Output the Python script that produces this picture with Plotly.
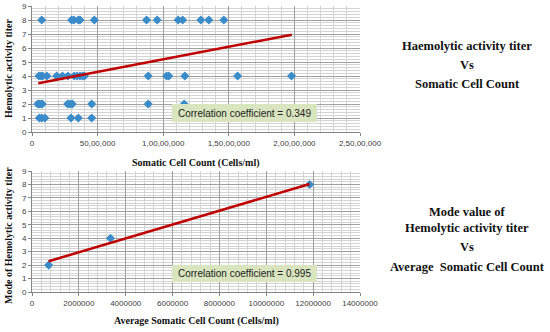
import plotly.graph_objects as go

# ---- Top chart data: Haemolytic activity titer vs Somatic Cell Count ----
scc_titer8 = [740000, 3020000, 3200000, 3530000, 3660000, 4750000, 8730000, 9540000,
              11140000, 11480000, 12870000, 13480000, 14620000]
scc_titer4 = [530000, 690000, 810000, 1140000, 1880000, 2320000, 2740000, 3210000,
              3430000, 3660000, 3850000, 4000000, 8860000, 10260000, 10430000,
              11650000, 15670000, 19780000]
scc_titer2 = [440000, 560000, 690000, 780000, 2720000, 2890000, 3070000, 4550000,
              8860000, 11600000]
scc_titer1 = [560000, 740000, 980000, 2970000, 3530000, 4550000]

top_x = scc_titer8 + scc_titer4 + scc_titer2 + scc_titer1
top_y = ([8] * len(scc_titer8) + [4] * len(scc_titer4) +
         [2] * len(scc_titer2) + [1] * len(scc_titer1))

top_trend_x = [480000, 19800000]
top_trend_y = [3.48, 6.95]

top_xtick_vals = [0, 5000000, 10000000, 15000000, 20000000, 25000000]
top_xtick_text = ["0", "50,00,000", "1,00,00,000", "1,50,00,000", "2,00,00,000", "2,50,00,000"]

# ---- Bottom chart data: Mode titer vs Average SCC ----
avg_scc = [710000, 3350000, 11850000]
mode_titer = [2, 4, 8]
bot_trend_x = [710000, 11850000]
bot_trend_y = [2.29, 8.03]
bot_xtick_vals = [0, 2000000, 4000000, 6000000, 8000000, 10000000, 12000000, 14000000]
bot_xtick_text = ["0", "2000000", "4000000", "6000000", "8000000", "10000000", "12000000", "14000000"]

y_ticks = list(range(0, 10))

W, H = 550, 332
def px(x):
    return x / W
def py(y):
    return 1 - y / H

BLUE = "#3a8bc9"
RED = "#c00000"
SERIF = "Liberation Serif"
SANS = "Liberation Sans"

fig = go.Figure()

fig.add_trace(go.Scatter(x=top_x, y=top_y, mode="markers",
                         marker=dict(symbol="diamond", size=7, color=BLUE),
                         xaxis="x", yaxis="y", showlegend=False))
fig.add_trace(go.Scatter(x=top_trend_x, y=top_trend_y, mode="lines",
                         line=dict(color=RED, width=2.5),
                         xaxis="x", yaxis="y", showlegend=False))
fig.add_trace(go.Scatter(x=avg_scc, y=mode_titer, mode="markers",
                         marker=dict(symbol="diamond", size=7, color=BLUE),
                         xaxis="x2", yaxis="y2", showlegend=False))
fig.add_trace(go.Scatter(x=bot_trend_x, y=bot_trend_y, mode="lines",
                         line=dict(color=RED, width=2.5),
                         xaxis="x2", yaxis="y2", showlegend=False))

tickfont = dict(family=SANS, size=8, color="#404040")
MAJ = "#a0a0a0"
MIN = "#d4d4d4"

def xax(domain, anchor, rng, vals, text, minor_dt):
    return dict(domain=domain, anchor=anchor, range=rng, tickvals=vals, ticktext=text,
                showgrid=True, gridcolor=MAJ, gridwidth=1, zeroline=False,
                showline=True, linecolor="#868686", linewidth=1,
                ticks="outside", ticklen=3, tickcolor="#868686",
                tickfont=tickfont, fixedrange=True, automargin=False,
                minor=dict(dtick=minor_dt, showgrid=True, gridcolor=MIN, gridwidth=1))

def yax(domain, anchor):
    return dict(domain=domain, anchor=anchor, range=[0, 9], tickvals=y_ticks,
                showgrid=True, gridcolor=MAJ, gridwidth=1, zeroline=False,
                showline=True, linecolor="#868686", linewidth=1,
                ticks="outside", ticklen=3, tickcolor="#868686",
                tickfont=tickfont, fixedrange=True, automargin=False,
                minor=dict(dtick=0.2, showgrid=True, gridcolor=MIN, gridwidth=1))

fig.update_layout(
    width=W, height=H,
    margin=dict(l=0, r=0, t=0, b=0),
    paper_bgcolor="white", plot_bgcolor="white",
    xaxis=xax([px(32), px(360)], "y", [0, 25000000], top_xtick_vals, top_xtick_text, 1000000),
    yaxis=yax([py(132), py(6)], "x"),
    xaxis2=xax([px(32), px(360)], "y2", [0, 14000000], bot_xtick_vals, bot_xtick_text, 400000),
    yaxis2=yax([py(292), py(171)], "x2"),
)

# correlation boxes
for (x0, x1, y0, y1, txt) in [(172, 317, 104, 122, "Correlation coefficient = 0.349"),
                              (172, 317, 265, 282, "Correlation coefficient = 0.995")]:
    fig.add_shape(type="rect", xref="paper", yref="paper",
                  x0=px(x0), x1=px(x1), y0=py(y1), y1=py(y0),
                  fillcolor="#d8e5be", line=dict(width=0), layer="above")
    fig.add_annotation(xref="paper", yref="paper", x=px((x0 + x1) / 2), y=py((y0 + y1) / 2),
                       text=txt, showarrow=False, xanchor="center", yanchor="middle",
                       font=dict(family=SANS, size=10, color="#222222"))

ann = [
    # axis titles
    ("Somatic Cell Count (Cells/ml)", 196, 163, 0, 10),
    ("Average Somatic Cell Count (Cells/ml)", 196, 321, 0, 10),
    ("Hemolytic activity titer", 8, 69, -90, 10),
    ("Mode of Hemolytic activity titer", 8, 236, -90, 10),
    # right side titles
    ("Haemolytic activity titer", 467, 46, 0, 12.5),
    ("Vs", 467, 65, 0, 12.5),
    ("Somatic Cell Count", 467, 83.5, 0, 12.5),
    ("Mode value of", 467, 212, 0, 12.5),
    ("Hemolytic activity titer", 467, 228, 0, 12.5),
    ("Vs", 467, 247, 0, 12.5),
    ("Average  Somatic Cell Count", 467, 267, 0, 12.5),
]
for txt, x, y, ang, sz in ann:
    fig.add_annotation(xref="paper", yref="paper", x=px(x), y=py(y), text="<b>" + txt.replace("  ", "&nbsp; ") + "</b>",
                       showarrow=False, xanchor="center", yanchor="middle", textangle=ang,
                       font=dict(family=SERIF, size=sz, color="#111111"))

fig.write_html("out.html", config={"displayModeBar": False},
               post_script="document.body.style.margin='0';document.body.style.overflow='hidden';")
